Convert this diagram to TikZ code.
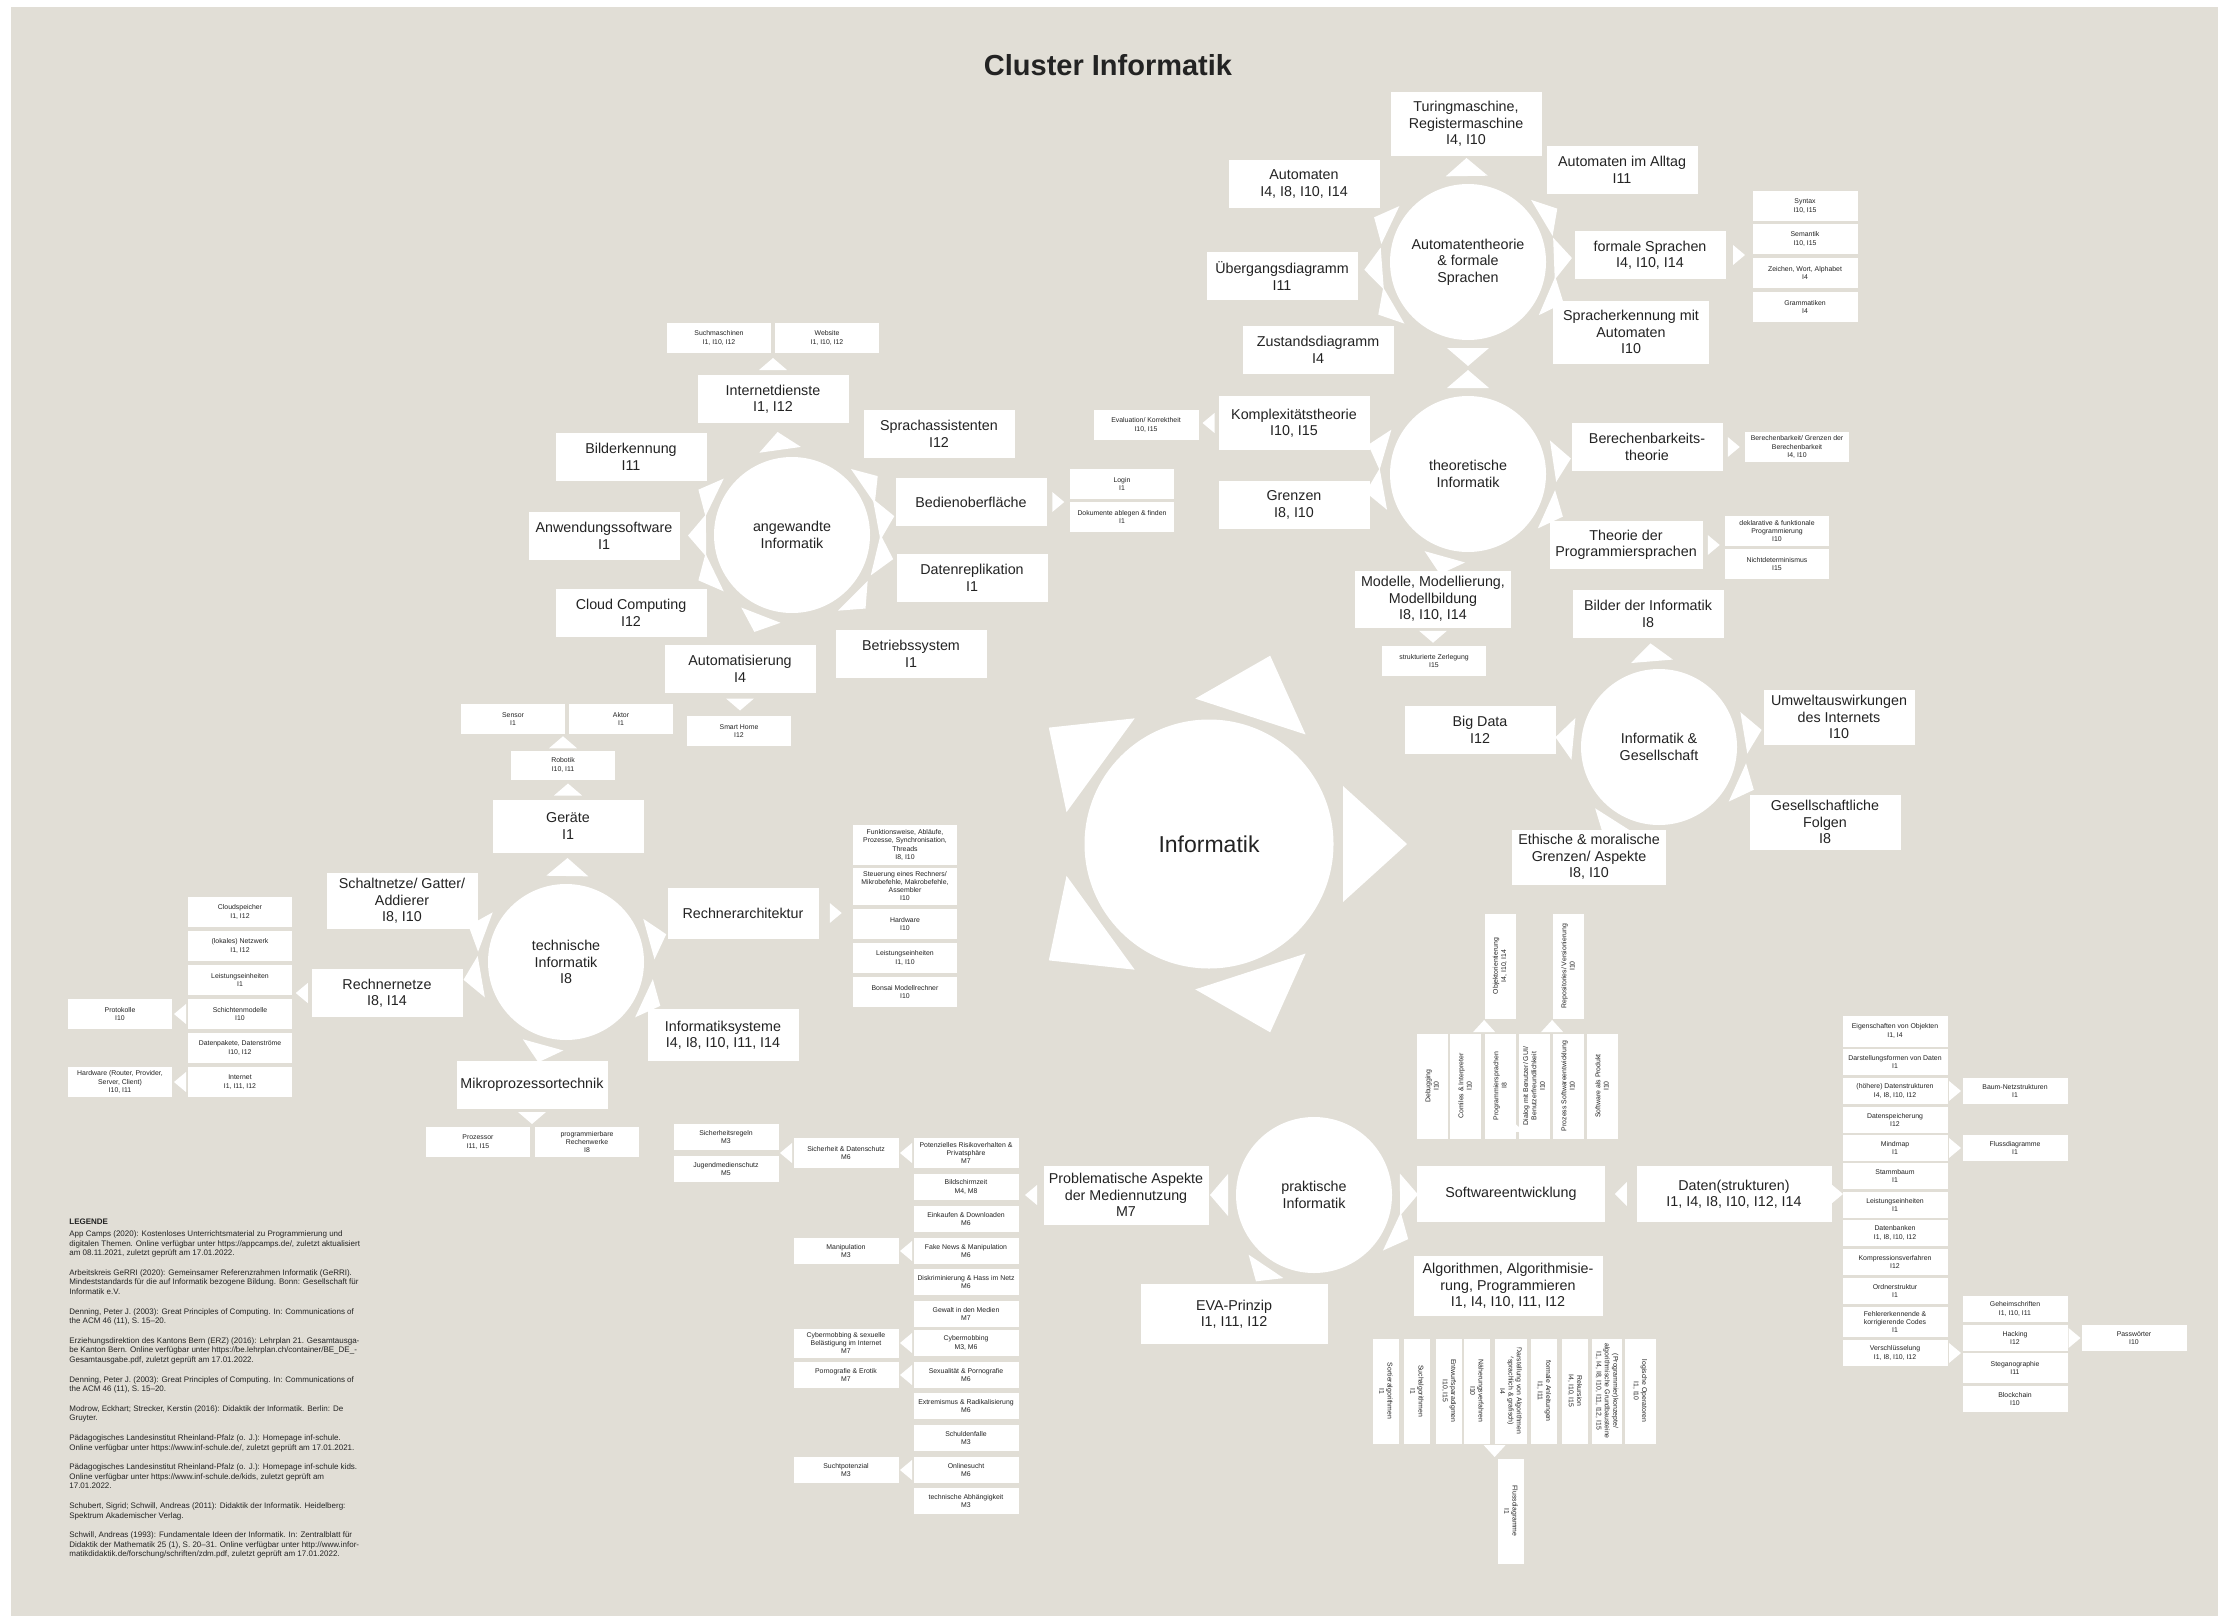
\documentclass[tikz,border=0pt]{standalone}
\usepackage{fontspec}
\setmainfont{Liberation Sans}
\usetikzlibrary{calc}

\definecolor{bg}{RGB}{225,222,214}
\definecolor{txt}{RGB}{35,35,35}

\tikzset{every picture/.style={line width=0.75pt}}
\tikzset{
  bbox/.style={fill=white, text=txt, font=\fontsize{14.3}{16.5}\selectfont, align=center,
    minimum width=151pt, minimum height=48pt, inner sep=1pt},
  sbox/.style={fill=white, text=txt, font=\fontsize{6.9}{8.3}\selectfont, align=center,
    minimum width=104pt, minimum height=30pt, inner sep=1pt},
  lbox/.style={sbox, minimum height=26pt},
  vbox/.style={sbox, minimum width=105pt, minimum height=31pt},
  hbox/.style={sbox, minimum width=105pt, minimum height=26pt, rotate=-90},
  clus/.style={circle, fill=white, text=txt, font=\fontsize{14.3}{16.5}\selectfont, align=center,
    minimum size=156pt, inner sep=0pt},
  spk/.style={fill=white},
}

% spike on a circle, pointing to a child
\newcommand{\spoke}[2]{%
  \coordinate (sb) at ($(#1)!86pt!(#2)$);
  \fill[spk] ($(sb)!21pt!90:(#2)$) -- ($(#1)!104pt!(#2)$) -- ($(sb)!21pt!-90:(#2)$) -- cycle;}
% small tips between boxes
\newcommand{\tipR}[3][10]{\fill[spk] let \p1=(#2.east), \p2=(#3.west) in
  ({(\x1+\x2)/2-6pt},{\y1+#1pt}) -- ({(\x1+\x2)/2+6pt},\y1) -- ({(\x1+\x2)/2-6pt},{\y1-#1pt}) -- cycle;}
\newcommand{\tipL}[3][10]{\fill[spk] let \p1=(#2.west), \p2=(#3.east) in
  ({(\x1+\x2)/2+6pt},{\y1+#1pt}) -- ({(\x1+\x2)/2-6pt},\y1) -- ({(\x1+\x2)/2+6pt},{\y1-#1pt}) -- cycle;}
\newcommand{\tipU}[3][11]{\fill[spk] let \p1=(#2.north), \p2=(#3.south) in
  ({\x1-#1pt},{(\y1+\y2)/2-6pt}) -- (\x1,{(\y1+\y2)/2+6pt}) -- ({\x1+#1pt},{(\y1+\y2)/2-6pt}) -- cycle;}
\newcommand{\tipD}[3][11]{\fill[spk] let \p1=(#2.south), \p2=(#3.north) in
  ({\x1-#1pt},{(\y1+\y2)/2+6pt}) -- (\x1,{(\y1+\y2)/2-6pt}) -- ({\x1+#1pt},{(\y1+\y2)/2+6pt}) -- cycle;}

\begin{document}
\begin{tikzpicture}[x=1pt,y=-1pt]
\useasboundingbox (0,0) rectangle (2218,1616);
\fill[white] (0,0) rectangle (2218,1616);
\fill[bg] (11,7) rectangle (2218,1616);

% Title
\node[font=\fontsize{29}{34}\selectfont\bfseries, text=txt] (title) at (1108,65) {Cluster Informatik};

% Centre
\node[clus, minimum size=249pt, font=\fontsize{23}{27}\selectfont] (info) at (1209,844) {Informatik};
\foreach \a in {0,72,144,216,288}
  \fill[spk] ($(info)+(\a+90:58pt)+(\a:134pt)$) -- ($(info)+(\a:198pt)$) -- ($(info)+(\a-90:58pt)+(\a:134pt)$) -- cycle;

%% Automatentheorie & formale Sprachen
\node[clus] (auto) at (1468,262) {Automatentheorie\\\& formale\\Sprachen};
\node[bbox, minimum height=64pt] (turing) at (1466,124) {Turingmaschine,\\Registermaschine\\I4, I10};
\node[bbox] (alltag) at (1622,170) {Automaten im Alltag\\I11};
\node[bbox] (automaten) at (1304,184) {Automaten\\I4, I8, I10, I14};
\node[bbox] (formale) at (1650,255) {formale Sprachen\\I4, I10, I14};
\node[bbox] (uebergang) at (1282,276) {Übergangsdiagramm\\I11};
\node[bbox] (zustand) at (1318,350) {Zustandsdiagramm\\I4};
\node[bbox, minimum width=156pt, minimum height=63pt] (spracherk) at (1631,332) {Spracherkennung mit\\Automaten\\I10};
\node[sbox, minimum width=105pt] (syntax) at (1805,206) {Syntax\\I10, I15};
\node[sbox, minimum width=105pt] (semantik) at (1805,239) {Semantik\\I10, I15};
\node[sbox, minimum width=105pt] (zeichen) at (1805,273) {Zeichen, Wort, Alphabet\\I4};
\node[sbox, minimum width=105pt] (gramm) at (1805,307) {Grammatiken\\I4};

%% theoretische Informatik
\node[clus] (theo) at (1468,474) {theoretische\\Informatik};
\node[bbox, minimum height=54pt] (komplex) at (1294,423) {Komplexitätstheorie\\I10, I15};
\node[sbox, minimum width=105pt] (eval) at (1146,425) {Evaluation/ Korrektheit\\I10, I15};
\node[bbox] (berechen) at (1647,447) {Berechenbarkeits-\\theorie};
\node[sbox] (berechenG) at (1797,447) {Berechenbarkeit/ Grenzen der\\Berechenbarkeit\\I4, I10};
\node[bbox] (grenzen) at (1294,505) {Grenzen\\I8, I10};
\node[bbox, minimum width=153pt] (theorieP) at (1626,545) {Theorie der\\Programmiersprachen};
\node[sbox] (deklarativ) at (1777,531) {deklarative \& funktionale\\Programmierung\\I10};
\node[sbox] (nichtdet) at (1777,564) {Nichtdeterminismus\\I15};
\node[bbox, minimum width=156pt, minimum height=57pt] (modelle) at (1433,599) {Modelle, Modellierung,\\Modellbildung\\I8, I10, I14};
\node[sbox] (zerlegung) at (1434,661) {strukturierte Zerlegung\\I15};

%% angewandte Informatik
\node[clus] (angew) at (792,535) {angewandte\\Informatik};
\node[bbox] (internet) at (773,399) {Internetdienste\\I1, I12};
\node[sbox] (suchm) at (719,338) {Suchmaschinen\\I1, I10, I12};
\node[sbox] (website) at (827,338) {Website\\I1, I10, I12};
\node[bbox] (sprachass) at (939,434) {Sprachassistenten\\I12};
\node[bbox] (bilder) at (631,457) {Bilderkennung\\I11};
\node[bbox] (bedien) at (971,502) {Bedienoberfläche};
\node[sbox] (login) at (1122,484) {Login\\I1};
\node[sbox] (dokumente) at (1122,517) {Dokumente ablegen \& finden\\I1};
\node[bbox] (anwendung) at (604,536) {Anwendungssoftware\\I1};
\node[bbox] (replik) at (972,578) {Datenreplikation\\I1};
\node[bbox] (cloud) at (631,613) {Cloud Computing\\I12};
\node[bbox] (betrieb) at (911,654) {Betriebssystem\\I1};
\node[bbox] (automatis) at (740,669) {Automatisierung\\I4};
\node[sbox] (smarthome) at (739,731) {Smart Home\\I12};

%% technische Informatik
\node[clus] (techn) at (566,962) {technische\\Informatik\\I8};
\node[bbox, minimum height=53pt] (geraete) at (568,826) {Geräte\\I1};
\node[sbox, minimum height=29pt] (robotik) at (563,765) {Robotik\\I10, I11};
\node[sbox] (sensor) at (513,719) {Sensor\\I1};
\node[sbox] (aktor) at (621,719) {Aktor\\I1};
\node[bbox, minimum height=56pt] (schalt) at (402,901) {Schaltnetze/ Gatter/\\Addierer\\I8, I10};
\node[bbox, minimum height=51pt] (rechnerarch) at (743,913) {Rechnerarchitektur};
\node[sbox, minimum height=40pt] (funkt) at (905,845) {Funktionsweise, Abläufe,\\Prozesse, Synchronisation,\\Threads\\I8, I10};
\node[sbox, minimum height=37pt] (steuer) at (905,886) {Steuerung eines Rechners/\\Mikrobefehle, Makrobefehle,\\Assembler\\I10};
\node[sbox] (hardware) at (905,924) {Hardware\\I10};
\node[sbox] (leistA) at (905,958) {Leistungseinheiten\\I1, I10};
\node[sbox] (bonsai) at (905,992) {Bonsai Modellrechner\\I10};
\node[bbox] (rechnernetze) at (387,993) {Rechnernetze\\I8, I14};
\node[sbox] (cloudsp) at (240,912) {Cloudspeicher\\I1, I12};
\node[sbox] (lokal) at (240,946) {(lokales) Netzwerk\\I1, I12};
\node[sbox] (leistB) at (240,980) {Leistungseinheiten\\I1};
\node[sbox] (schicht) at (240,1014) {Schichtenmodelle\\I10};
\node[sbox] (datenpak) at (240,1048) {Datenpakete, Datenströme\\I10, I12};
\node[sbox] (internetB) at (240,1082) {Internet\\I1, I11, I12};
\node[sbox] (protokolle) at (120,1014) {Protokolle\\I10};
\node[sbox] (hardwareB) at (120,1082) {Hardware (Router, Provider,\\Server, Client)\\I10, I11};
\node[bbox, minimum height=52pt] (infsys) at (723,1035) {Informatiksysteme\\I4, I8, I10, I11, I14};
\node[bbox] (mikro) at (532,1085) {Mikroprozessortechnik};
\node[sbox] (prozessor) at (478,1142) {Prozessor\\I11, I15};
\node[sbox] (rechenwerk) at (587,1142) {programmierbare\\Rechenwerke\\I8};

%% Informatik & Gesellschaft
\node[clus] (gesell) at (1659,747) {Informatik \&\\Gesellschaft};
\node[bbox] (bilderinf) at (1648,614) {Bilder der Informatik\\I8};
\node[bbox, minimum height=55pt] (umwelt) at (1839,717) {Umweltauswirkungen\\des Internets\\I10};
\node[bbox] (bigdata) at (1480,730) {Big Data\\I12};
\node[bbox, minimum height=55pt] (gesfolgen) at (1825,822) {Gesellschaftliche\\Folgen\\I8};
\node[bbox, minimum width=154pt, minimum height=55pt] (ethik) at (1589,857) {Ethische \& moralische\\Grenzen/ Aspekte\\I8, I10};

%% praktische Informatik
\node[clus] (prakt) at (1314,1195) {praktische\\Informatik};
\node[bbox, minimum width=165pt, minimum height=59pt] (problem) at (1126,1195) {Problematische Aspekte\\der Mediennutzung\\M7};
\node[bbox, minimum width=187pt, minimum height=60pt] (eva) at (1234,1314) {EVA-Prinzip\\I1, I11, I12};
\node[bbox, minimum width=188pt, minimum height=56pt] (software) at (1511,1194) {Softwareentwicklung};
\node[bbox, minimum width=195pt, minimum height=56pt] (daten) at (1734,1194) {Daten(strukturen)\\I1, I4, I8, I10, I12, I14};
\node[bbox, minimum width=189pt, minimum height=60pt] (algo) at (1508,1286) {Algorithmen, Algorithmisie-\\rung, Programmieren\\I1, I4, I10, I11, I12};

% Softwareentwicklung
\node[vbox, rotate=90] (debug) at (1432,1086) {Debugging\\I10};
\node[vbox, rotate=90] (compiler) at (1465,1086) {Comiles \& Interpreter\\I10};
\node[vbox, rotate=90] (progspr) at (1500,1086) {Programmiersprachen\\I8};
\node[vbox, rotate=90] (dialog) at (1534,1086) {Dialog mit Benutzer/ GUI/\\Benutzerfreundlichkeit\\I10};
\node[vbox, rotate=90] (prozess) at (1568,1086) {Prozess Softwareentwicklung\\I10};
\node[vbox, rotate=90] (produkt) at (1602,1086) {Software als Produkt\\I10};
\node[vbox, rotate=90] (objekt) at (1500,966) {Objektorientierung\\I4, I10, I14};
\node[vbox, rotate=90] (repo) at (1568,966) {Repositories/ Versionierung\\I10};

% Algorithmen
\node[hbox] (sortier) at (1386,1391) {Sortieralgorithmen\\I1};
\node[hbox] (such) at (1417,1391) {Suchalgorithmen\\I1};
\node[hbox] (entwurf) at (1449,1391) {Entwurfsparadigmen\\I10, I15};
\node[hbox] (naeher) at (1477,1391) {Näherungsverfahren\\I10};
\node[hbox, minimum height=32pt] (darstell) at (1511,1391) {Darstellung von Algorithmen\\(sprachlich \& grafisch)\\I4};
\node[hbox] (formal) at (1544,1391) {formale Anleitungen\\I1, I11};
\node[hbox] (rekursion) at (1575,1391) {Rekursion\\I4, I10, I15};
\node[hbox, minimum height=30pt] (konzepte) at (1607,1391) {(Programmier)konzepte/\\algorithmische Grundbausteine\\I1, I4, I8, I10, I11, I12, I15};
\node[hbox, minimum height=31pt] (logisch) at (1640,1391) {logische Operatoren\\I1, I10};
\node[hbox] (flussA) at (1511,1511) {Flussdiagramme\\I1};

% Daten(strukturen)
\node[lbox, minimum width=105pt, minimum height=31pt] (eigensch) at (1895,1031) {Eigenschaften von Objekten\\I1, I4};
\node[lbox, minimum width=105pt] (darstform) at (1895,1062) {Darstellungsformen von Daten\\I1};
\node[lbox, minimum width=105pt] (hoeher) at (1895,1091) {(höhere) Datenstrukturen\\I4, I8, I10, I12};
\node[lbox, minimum width=105pt] (speicher) at (1895,1120) {Datenspeicherung\\I12};
\node[lbox, minimum width=105pt] (mindmap) at (1895,1148) {Mindmap\\I1};
\node[lbox, minimum width=105pt] (stamm) at (1895,1176) {Stammbaum\\I1};
\node[lbox, minimum width=105pt] (leistC) at (1895,1205) {Leistungseinheiten\\I1};
\node[lbox, minimum width=105pt] (datenbank) at (1895,1233) {Datenbanken\\I1, I8, I10, I12};
\node[lbox, minimum width=105pt] (kompr) at (1895,1262) {Kompressionsverfahren\\I12};
\node[lbox, minimum width=105pt] (ordner) at (1895,1291) {Ordnerstruktur\\I1};
\node[lbox, minimum width=105pt, minimum height=30pt] (fehler) at (1895,1322) {Fehlererkennende \&\\korrigierende Codes\\I1};
\node[lbox, minimum width=105pt] (verschl) at (1895,1353) {Verschlüsselung\\I1, I8, I10, I12};
\node[lbox, minimum width=105pt] (baum) at (2015,1091) {Baum-Netzstrukturen\\I1};
\node[lbox, minimum width=105pt] (flussB) at (2015,1148) {Flussdiagramme\\I1};
\node[lbox, minimum width=105pt] (geheim) at (2015,1309) {Geheimschriften\\I1, I10, I11};
\node[lbox, minimum width=105pt] (hacking) at (2015,1338) {Hacking\\I12};
\node[lbox, minimum width=105pt, minimum height=30pt] (stegano) at (2015,1368) {Steganographie\\I11};
\node[lbox, minimum width=105pt] (blockchain) at (2015,1399) {Blockchain\\I10};
\node[lbox, minimum width=105pt] (passw) at (2134,1338) {Passwörter\\I10};

% Mediennutzung
\node[lbox, minimum width=105pt, minimum height=30pt] (risiko) at (966,1153) {Potenzielles Risikoverhalten \&\\Privatsphäre\\M7};
\node[lbox, minimum width=105pt] (bildsch) at (966,1187) {Bildschirmzeit\\M4, M8};
\node[lbox, minimum width=105pt] (einkauf) at (966,1219) {Einkaufen \& Downloaden\\M6};
\node[lbox, minimum width=105pt] (fake) at (966,1251) {Fake News \& Manipulation\\M6};
\node[lbox, minimum width=105pt] (diskrim) at (966,1282) {Diskriminierung \& Hass im Netz\\M6};
\node[lbox, minimum width=105pt] (gewalt) at (966,1314) {Gewalt in den Medien\\M7};
\node[lbox, minimum width=105pt] (cyber) at (966,1343) {Cybermobbing\\M3, M6};
\node[lbox, minimum width=105pt] (sexual) at (966,1375) {Sexualität \& Pornografie\\M6};
\node[lbox, minimum width=105pt] (extrem) at (966,1406) {Extremismus \& Radikalisierung\\M6};
\node[lbox, minimum width=105pt] (schulden) at (966,1438) {Schuldenfalle\\M3};
\node[lbox, minimum width=105pt] (online) at (966,1470) {Onlinesucht\\M6};
\node[lbox, minimum width=105pt] (technab) at (966,1501) {technische Abhängigkeit\\M3};
\node[lbox, minimum width=105pt, minimum height=30pt] (sicher) at (846,1153) {Sicherheit \& Datenschutz\\M6};
\node[lbox, minimum width=105pt] (manip) at (846,1251) {Manipulation\\M3};
\node[lbox, minimum width=105pt, minimum height=29pt] (cybersex) at (846,1343) {Cybermobbing \& sexuelle\\Belästigung im Internet\\M7};
\node[lbox, minimum width=105pt] (porno) at (846,1375) {Pornografie \& Erotik\\M7};
\node[lbox, minimum width=105pt] (sucht) at (846,1470) {Suchtpotenzial\\M3};
\node[lbox, minimum width=105pt] (regeln) at (726,1137) {Sicherheitsregeln\\M3};
\node[lbox, minimum width=105pt] (jugend) at (726,1169) {Jugendmedienschutz\\M5};

%% spikes on the circles
\foreach \c in {turing,alltag,automaten,formale,uebergang,zustand,spracherk,theo} {\spoke{auto}{\c}}
\foreach \c in {komplex,grenzen,berechen,theorieP,modelle,auto} {\spoke{theo}{\c}}
\foreach \c in {internet,sprachass,bilder,bedien,anwendung,replik,cloud,betrieb,automatis} {\spoke{angew}{\c}}
\foreach \c in {geraete,schalt,rechnerarch,rechnernetze,infsys,mikro} {\spoke{techn}{\c}}
\foreach \c in {bilderinf,umwelt,bigdata,gesfolgen,ethik} {\spoke{gesell}{\c}}
\foreach \c in {problem,eva,software,algo} {\spoke{prakt}{\c}}

%% tips between boxes
\tipR{formale}{syntax}
\tipL{komplex}{eval}
\tipR{berechen}{berechenG}
\tipR{theorieP}{deklarativ}
\tipD[14]{modelle}{zerlegung}
\tipU[14]{internet}{suchm}
\tipR{bedien}{login}
\tipD[14]{automatis}{smarthome}
\tipU[14]{geraete}{robotik}
\tipU[14]{robotik}{sensor}
\tipR{rechnerarch}{hardware}
\tipL{rechnernetze}{schicht}
\tipL{schicht}{protokolle}
\tipL{internetB}{hardwareB}
\tipD[14]{mikro}{prozessor}
\tipL{problem}{risiko}
\tipL{risiko}{sicher}
\tipL{sicher}{regeln}
\tipL{fake}{manip}
\tipL{cyber}{cybersex}
\tipL{sexual}{porno}
\tipL{online}{sucht}
\tipU[13]{software}{dialog}
\tipL[12]{daten}{software}
\tipU{progspr}{objekt}
\tipU{prozess}{repo}
\tipD{algo}{darstell}
\tipD{darstell}{flussA}
\tipR{daten}{leistC}
\tipR{hoeher}{baum}
\tipR{mindmap}{flussB}
\tipR{verschl}{stegano}
\tipR{hacking}{passw}

% Legend
\node[anchor=north west, align=left, text=txt, font=\fontsize{8}{9.6}\selectfont, inner sep=0pt] (legende) at (69,1219) {%
\textbf{LEGENDE}\\[2pt]
App Camps (2020): Kostenloses Unterrichtsmaterial zu Programmierung und\\
digitalen Themen. Online verfügbar unter https://appcamps.de/, zuletzt aktualisiert\\
am 08.11.2021, zuletzt geprüft am 17.01.2022.\\[10pt]
Arbeitskreis GeRRI (2020): Gemeinsamer Referenzrahmen Informatik (GeRRI).\\
Mindeststandards für die auf Informatik bezogene Bildung. Bonn: Gesellschaft für\\
Informatik e.V.\\[10pt]
Denning, Peter J. (2003): Great Principles of Computing. In: Communications of\\
the ACM 46 (11), S. 15–20.\\[10pt]
Erziehungsdirektion des Kantons Bern (ERZ) (2016): Lehrplan 21. Gesamtausga-\\
be Kanton Bern. Online verfügbar unter https://be.lehrplan.ch/container/BE\_DE\_-\\
Gesamtausgabe.pdf, zuletzt geprüft am 17.01.2022.\\[10pt]
Denning, Peter J. (2003): Great Principles of Computing. In: Communications of\\
the ACM 46 (11), S. 15–20.\\[10pt]
Modrow, Eckhart; Strecker, Kerstin (2016): Didaktik der Informatik. Berlin: De\\
Gruyter.\\[10pt]
Pädagogisches Landesinstitut Rheinland-Pfalz (o. J.): Homepage inf-schule.\\
Online verfügbar unter https://www.inf-schule.de/, zuletzt geprüft am 17.01.2021.\\[10pt]
Pädagogisches Landesinstitut Rheinland-Pfalz (o. J.): Homepage inf-schule kids.\\
Online verfügbar unter https://www.inf-schule.de/kids, zuletzt geprüft am\\
17.01.2022.\\[10pt]
Schubert, Sigrid; Schwill, Andreas (2011): Didaktik der Informatik. Heidelberg:\\
Spektrum Akademischer Verlag.\\[10pt]
Schwill, Andreas (1993): Fundamentale Ideen der Informatik. In: Zentralblatt für\\
Didaktik der Mathematik 25 (1), S. 20–31. Online verfügbar unter http://www.infor-\\
matikdidaktik.de/forschung/schriften/zdm.pdf, zuletzt geprüft am 17.01.2022.};

\end{tikzpicture}
\end{document}
